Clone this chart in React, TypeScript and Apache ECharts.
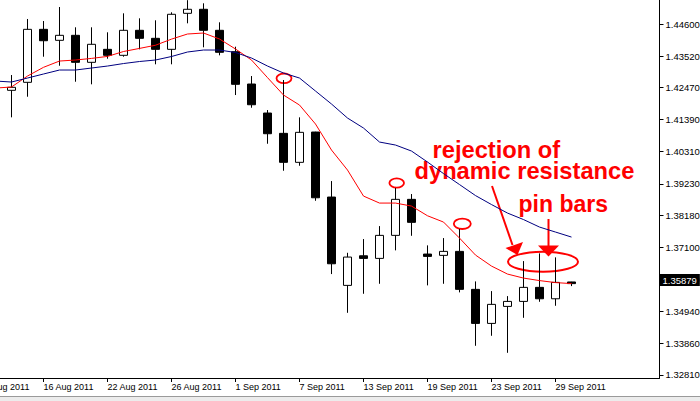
import React, { useEffect, useRef } from "react";
import * as echarts from "echarts";

// Trading days shown on the chart (10 Aug 2011 is just off the left edge)
const dates: string[] = [
  "10 Aug 2011", "11 Aug 2011", "12 Aug 2011", "15 Aug 2011", "16 Aug 2011",
  "17 Aug 2011", "18 Aug 2011", "19 Aug 2011", "22 Aug 2011", "23 Aug 2011",
  "24 Aug 2011", "25 Aug 2011", "26 Aug 2011", "29 Aug 2011", "30 Aug 2011",
  "31 Aug 2011", "1 Sep 2011", "2 Sep 2011", "5 Sep 2011", "6 Sep 2011",
  "7 Sep 2011", "8 Sep 2011", "9 Sep 2011", "12 Sep 2011", "13 Sep 2011",
  "14 Sep 2011", "15 Sep 2011", "16 Sep 2011", "19 Sep 2011", "20 Sep 2011",
  "21 Sep 2011", "22 Sep 2011", "23 Sep 2011", "26 Sep 2011", "27 Sep 2011",
  "28 Sep 2011", "29 Sep 2011", "30 Sep 2011",
];
// empty future slots to the right of the last bar
const emptySlots = 5;

const opens: (number | null)[] = [
  null, 1.41744, 1.42372, 1.42641, 1.44421, 1.44052, 1.4422, 1.43313, 1.43749, 1.43548,
  1.44388, 1.44119, 1.43749, 1.44959, 1.45094, 1.44388, 1.43669, 1.42584, 1.41609, 1.40927,
  1.39953, 1.40971, 1.38787, 1.3582, 1.36814, 1.36727, 1.375, 1.3871, 1.36872, 1.36828,
  1.36962, 1.35686, 1.34543, 1.35114, 1.35282, 1.35753, 1.3537, 1.35935,
];
const closes: (number | null)[] = [
  null, 1.42382, 1.42473, 1.44421, 1.44038, 1.4422, 1.43313, 1.43918, 1.43548, 1.44388,
  1.44119, 1.43749, 1.44926, 1.45094, 1.44388, 1.43649, 1.42574, 1.41888, 1.40914, 1.39953,
  1.40961, 1.38763, 1.36546, 1.36771, 1.36727, 1.375, 1.3871, 1.37937, 1.36794, 1.36962,
  1.35686, 1.34543, 1.35182, 1.35282, 1.35753, 1.3537, 1.35921, 1.35879,
];
const lows: (number | null)[] = [
  null, 1.41441, 1.41465, 1.42157, 1.43501, 1.43198, 1.42661, 1.42574, 1.43434, 1.43501,
  1.43749, 1.43246, 1.43246, 1.44623, 1.43817, 1.43548, 1.42214, 1.41787, 1.40578, 1.39671,
  1.39838, 1.38662, 1.362, 1.34899, 1.35538, 1.35874, 1.36996, 1.37486, 1.3582, 1.35874,
  1.35585, 1.33791, 1.34127, 1.33555, 1.34731, 1.35269, 1.35135, 1.35796,
];
const highs: (number | null)[] = [
  null, 1.42718, 1.42886, 1.44768, 1.447, 1.45171, 1.44489, 1.44489, 1.44321, 1.44959,
  1.44791, 1.44724, 1.44993, 1.454, 1.45295, 1.44657, 1.43837, 1.42852, 1.4171, 1.42718,
  1.41465, 1.4098, 1.39324, 1.36915, 1.37376, 1.37812, 1.39089, 1.38888, 1.37164, 1.37409,
  1.37712, 1.35954, 1.35628, 1.3546, 1.36636, 1.36895, 1.36761, 1.3594,
];
// fast (red) and slow (navy) moving averages
const fastMA: number[] = [
  1.42416, 1.42449, 1.42483, 1.42852, 1.43145, 1.43356, 1.4339, 1.43444, 1.43511, 1.43676,
  1.4378, 1.43887, 1.44092, 1.44264, 1.44297, 1.44096, 1.4376, 1.4339, 1.42799, 1.42214,
  1.41878, 1.4124, 1.40366, 1.39694, 1.3882, 1.38585, 1.38585, 1.38484, 1.38158, 1.37947,
  1.37409, 1.36838, 1.36468, 1.362, 1.36065, 1.35981, 1.35914, 1.3588,
];
const slowMA: number[] = [
  1.42684, 1.42684, 1.42651, 1.42785, 1.4292, 1.43054, 1.43054, 1.43121, 1.43188, 1.43272,
  1.4334, 1.4339, 1.43508, 1.43659, 1.43726, 1.43726, 1.43642, 1.43457, 1.43188, 1.42953,
  1.42785, 1.42348, 1.41912, 1.41441, 1.41105, 1.40635, 1.40534, 1.40332, 1.39963, 1.39576,
  1.39207, 1.38837, 1.38535, 1.38249, 1.38031, 1.37779, 1.37611, 1.37443,
];
// price scale tick labels (MetaTrader style)
const priceTicks: number[] = [
  1.446, 1.4352, 1.4247, 1.4139, 1.4031, 1.3923, 1.3818, 1.371, 1.3602, 1.3494, 1.3386, 1.3281,
];
const yMin = 1.327088;
const yMax = 1.454062;
const lastPrice = 1.35879;

const FONT = '"Liberation Sans", Arial, sans-serif';
const RED = "#ff0000";

export default function App() {
  const ref = useRef<HTMLDivElement>(null);

  useEffect(() => {
    if (!ref.current) return;
    const chart = echarts.init(ref.current, undefined, { renderer: "svg" });

    const categories = [...dates, ...Array(emptySlots).fill("")];
    const candles = dates.map((_, i) =>
      opens[i] == null
        ? "-"
        : [opens[i], closes[i], lows[i], highs[i]]
    );
    const showIdx = (index: number, value: string) => index % 4 === 0 && value !== "";

    const option: any = {
      animation: false,
      backgroundColor: "#ffffff",
      grid: {
        left: -28.5,
        top: 0,
        width: 688,
        height: 378,
        outerBoundsMode: "none",
        containLabel: false,
      },
      xAxis: {
        type: "category",
        data: categories,
        boundaryGap: true,
        axisLine: { show: true, lineStyle: { color: "#000", width: 1 } },
        axisTick: {
          show: true,
          alignWithLabel: true,
          length: 4,
          interval: showIdx,
          lineStyle: { color: "#000" },
        },
        axisLabel: {
          interval: showIdx,
          align: "left",
          margin: 4,
          color: "#000",
          fontSize: 9,
          fontFamily: FONT,
          hideOverlap: false,
        },
        splitLine: { show: false },
      },
      yAxis: {
        type: "value",
        position: "right",
        min: yMin,
        max: yMax,
        scale: true,
        axisLine: { show: true, onZero: false, lineStyle: { color: "#000", width: 1 } },
        axisTick: {
          show: true,
          length: 4,
          customValues: priceTicks,
          lineStyle: { color: "#000" },
        },
        axisLabel: {
          customValues: priceTicks,
          formatter: (v: number) => v.toFixed(5),
          margin: 6,
          color: "#000",
          fontSize: 9.5,
          fontFamily: FONT,
        },
        splitLine: { show: false },
      },
      series: [
        {
          type: "candlestick",
          data: candles,
          barWidth: 9,
          itemStyle: {
            color: "#ffffff",
            color0: "#000000",
            borderColor: "#000000",
            borderColor0: "#000000",
            borderWidth: 1,
          },
        },
        {
          type: "line",
          data: fastMA,
          showSymbol: false,
          symbol: "none",
          lineStyle: { color: "#ff0000", width: 1 },
          itemStyle: { color: "#ff0000" },
          z: 3,
        },
        {
          type: "line",
          data: slowMA,
          showSymbol: false,
          symbol: "none",
          lineStyle: { color: "#000080", width: 1 },
          itemStyle: { color: "#000080" },
          z: 3,
          markLine: {
            silent: true,
            symbol: ["none", "none"],
            lineStyle: { color: "rgba(0,0,0,0)", width: 1, type: "solid" },
            data: [{ yAxis: lastPrice }],
            label: {
              show: true,
              position: "end",
              distance: 0,
              formatter: () => lastPrice.toFixed(5),
              backgroundColor: "#000000",
              color: "#ffffff",
              padding: [1, 3, 1, 3],
              fontSize: 9.5,
              fontFamily: FONT,
            },
            z: 10,
          },
        },
      ],
      graphic: [
        {
          type: "rect",
          silent: true,
          shape: { x: 0, y: 397, width: 700, height: 4 },
          style: { fill: "#ececec" },
        },
        {
          type: "line",
          silent: true,
          shape: { x1: 0, y1: 396.5, x2: 700, y2: 396.5 },
          style: { stroke: "#9a9a9a", lineWidth: 1 },
        },
        {
          type: "text",
          silent: true,
          style: {
            text: "rejection of",
            x: 432.5,
            y: 150,
            fill: RED,
            font: `bold 23.7px ${FONT}`,
            verticalAlign: "middle",
          },
        },
        {
          type: "text",
          silent: true,
          style: {
            text: "dynamic resistance",
            x: 414.5,
            y: 171,
            fill: RED,
            font: `bold 23.7px ${FONT}`,
            verticalAlign: "middle",
          },
        },
        {
          type: "text",
          silent: true,
          style: {
            text: "pin bars",
            x: 518.5,
            y: 204,
            fill: RED,
            font: `bold 23px ${FONT}`,
            verticalAlign: "middle",
          },
        },
        {
          type: "line",
          silent: true,
          shape: { x1: 492, y1: 186, x2: 512.5, y2: 245 },
          style: { stroke: RED, lineWidth: 2 },
        },
        {
          type: "polygon",
          silent: true,
          shape: { points: [[505.5, 248], [523, 242], [517.5, 255]] },
          style: { fill: RED },
        },
        {
          type: "line",
          silent: true,
          shape: { x1: 548.5, y1: 219, x2: 548.5, y2: 247 },
          style: { stroke: RED, lineWidth: 2 },
        },
        {
          type: "polygon",
          silent: true,
          shape: { points: [[538, 245.5], [559, 245.5], [548.5, 256.5]] },
          style: { fill: RED },
        },
        {
          type: "ellipse",
          silent: true,
          shape: { cx: 543, cy: 261.7, rx: 35, ry: 10 },
          style: { fill: "none", stroke: RED, lineWidth: 2 },
        },
        {
          type: "ellipse",
          silent: true,
          shape: { cx: 284, cy: 78.3, rx: 7.5, ry: 4.8 },
          style: { fill: "none", stroke: RED, lineWidth: 1.8 },
        },
        {
          type: "ellipse",
          silent: true,
          shape: { cx: 396.7, cy: 183, rx: 7.3, ry: 4.7 },
          style: { fill: "none", stroke: RED, lineWidth: 1.8 },
        },
        {
          type: "ellipse",
          silent: true,
          shape: { cx: 462.3, cy: 223.8, rx: 8.5, ry: 5.2 },
          style: { fill: "none", stroke: RED, lineWidth: 1.8 },
        },
      ],
    };

    chart.setOption(option);
    return () => chart.dispose();
  }, []);

  return (
    <div
      ref={ref}
      style={{ position: "absolute", left: 0, top: 0, width: 700, height: 401 }}
    />
  );
}
